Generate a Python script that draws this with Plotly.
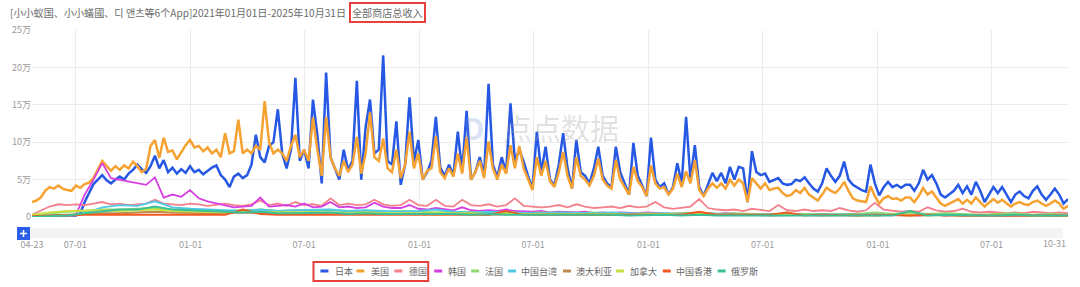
import pandas as pd
import plotly.graph_objects as go

# ---------------- data (values in 万) ----------------
weeks = pd.date_range("2021-04-23", "2025-10-31", freq="7D")      # weekly samples
biweeks = weeks[::2]
fourweeks = weeks[::4]

series_names = ["日本", "美国", "德国", "韩国", "法国", "中国台湾", "澳大利亚", "加拿大", "中国香港", "俄罗斯"]

japan = [
    0.1, 0.1, 0.1, 0.1, 0.1, 0.1, 0.1, 0.1, 0.1, 0.1, 0.2,
    0.5, 2.0, 3.2, 4.4, 5.0, 5.6, 4.9, 4.5, 5.0, 5.4, 5.0, 5.8, 6.3, 7.0, 6.4, 5.9, 6.8, 8.2, 6.5, 7.6, 6.0, 6.6, 5.8, 6.4, 5.9, 6.8,
    6.0, 6.3, 5.7, 6.2, 6.6, 6.9, 5.6, 5.0, 4.0, 5.4, 5.8, 5.2, 5.6, 7.0, 11.0, 8.0, 7.3, 9.5, 10.0, 14.4, 8.5, 6.5, 9.0, 18.6, 7.5, 9.0,
    6.5, 15.7, 11.0, 4.5, 19.3, 8.0, 6.6, 5.0, 9.0, 6.3, 7.5, 18.2, 5.0, 12.0, 15.7, 8.5, 9.0, 21.6, 7.5, 7.0, 12.8, 4.3, 7.0, 16.0, 7.4, 10.3,
    5.0, 6.0, 7.5, 13.4, 6.6, 5.5, 7.0, 5.6, 11.4, 6.1, 14.2, 5.0, 6.0, 8.0, 5.6, 17.8, 7.0, 5.3, 8.0, 6.0, 15.2, 7.5, 9.0, 7.4, 5.5, 3.8,
    11.4, 6.0, 9.4, 5.0, 4.2, 7.0, 11.2, 6.5, 3.8, 10.3, 6.0, 5.5, 4.5, 6.5, 9.4, 5.5, 4.5, 4.0, 9.4, 6.0, 4.5, 3.0, 9.9, 5.5, 4.2, 2.8,
    10.6, 5.0, 4.0, 4.5, 3.0, 4.0, 7.2, 4.5, 13.4, 5.0, 9.6, 4.0, 2.8, 4.5, 5.9,
    4.8, 5.9, 4.5, 6.7, 5.0, 6.7, 6.5, 2.0, 8.8, 6.0, 5.6, 5.8, 4.7, 5.0, 5.2, 4.5, 4.3, 4.4, 5.0, 4.8, 5.3, 4.5, 3.8, 3.4, 4.5, 6.5,
    5.5, 4.7, 5.5, 7.4, 5.0, 4.3, 3.9, 3.6, 3.4, 7.0, 4.5, 2.9, 4.0, 4.7, 4.0, 4.3, 3.9, 4.3, 4.3, 3.5, 4.5, 6.3, 5.0, 5.6, 4.5, 3.0,
    2.6, 3.0, 3.5, 4.3, 3.2, 4.1, 3.0, 4.7, 3.5, 2.0, 3.0, 4.0, 3.2, 4.0, 3.0, 2.0, 3.0, 3.4, 2.8, 2.5, 3.5, 4.1, 3.0, 2.3, 3.0, 3.8,
    3.0, 1.8, 2.4,
]

usa = [
    2.0, 2.2, 2.6, 3.5, 4.0, 3.8, 4.2, 3.8, 3.6, 3.5, 4.2,
    3.9, 4.4, 4.6, 5.2, 6.3, 7.5, 6.8, 6.2, 6.8, 6.3, 6.9, 6.5, 7.4, 6.8, 6.0, 6.4, 9.5, 10.3, 7.9, 10.6, 8.7, 8.9, 7.7, 8.6, 9.6, 10.3,
    9.3, 9.5, 8.8, 9.3, 8.5, 9.0, 8.0, 11.2, 8.5, 8.8, 13.0, 8.5, 9.0, 8.5, 9.5, 9.0, 15.5, 10.0, 8.5, 9.0, 8.5, 7.5, 9.5, 11.0, 8.0, 9.0,
    7.5, 13.3, 9.0, 5.5, 13.4, 8.0, 6.5, 5.5, 7.5, 6.0, 7.0, 10.7, 5.8, 8.5, 14.0, 8.0, 7.5, 10.5, 6.5, 6.0, 9.0, 5.2, 7.0, 11.4, 6.5, 8.5,
    5.0, 6.2, 6.5, 10.8, 6.0, 5.2, 6.5, 5.4, 8.5, 5.8, 10.7, 5.0, 6.0, 7.5, 5.2, 10.1, 6.5, 5.0, 7.0, 5.8, 9.6, 6.5, 9.5, 6.5, 5.0, 3.6,
    8.0, 5.5, 7.5, 4.8, 4.0, 6.0, 8.7, 5.5, 3.8, 8.0, 5.5, 5.0, 4.2, 5.5, 7.8, 5.0, 4.2, 3.8, 7.6, 5.0, 4.0, 3.0, 6.7, 4.8, 4.0, 2.8,
    6.9, 4.5, 3.8, 4.0, 3.0, 3.8, 5.8, 4.0, 6.1, 4.5, 7.6, 3.6, 2.8, 3.8, 4.5,
    3.9, 4.5, 3.8, 5.0, 4.2, 5.0, 4.5, 2.0, 5.2, 4.5, 3.8, 4.5, 3.6, 3.8, 3.9, 3.2, 2.8, 3.0, 3.6, 3.2, 3.9, 3.0, 2.6, 2.2, 3.0, 3.9,
    3.5, 3.2, 3.8, 4.7, 3.5, 2.5, 2.2, 2.1, 2.0, 4.1, 2.8, 1.8, 2.5, 2.8, 2.4, 2.5, 2.2, 2.6, 2.6, 2.0, 2.8, 3.9, 3.0, 3.4, 2.6, 1.8,
    1.5, 1.8, 2.0, 2.4, 1.8, 2.3, 1.8, 2.6, 2.0, 1.4, 1.9, 2.4, 1.9, 2.3, 1.8, 1.4, 1.8, 2.0, 1.7, 1.6, 2.0, 2.2, 1.8, 1.5, 1.8, 2.2,
    1.8, 1.1, 1.5,
]

germany = [
    0.3, 0.8, 1.4, 1.7, 1.6, 1.7, 1.6, 1.8, 2.0, 1.7,
    1.8, 1.6, 1.7, 1.8, 2.3, 1.8, 1.7, 1.6, 1.8, 1.7,
    1.5, 1.6, 1.8, 1.6, 1.5, 1.7, 2.2, 1.6, 1.8, 1.5,
    2.0, 1.6, 1.7, 1.5, 2.5, 1.6, 1.8, 1.6, 1.7, 2.3,
    1.7, 1.5, 1.6, 2.3, 1.6, 1.5, 2.3, 1.5, 1.4, 2.3,
    1.6, 1.5, 1.7, 1.4, 1.6, 2.5, 1.5, 1.4, 1.3, 1.4,
    1.6, 1.3, 1.7, 1.4, 1.2, 1.3, 1.4, 1.2, 1.5, 1.3,
    1.4, 2.0, 1.3, 1.1, 1.2, 1.4, 2.4, 1.2, 1.0, 0.9,
    1.0, 0.8, 1.1, 0.9, 0.8, 1.6, 0.9, 0.8, 1.0, 0.8,
    0.9, 0.8, 1.2, 0.9, 0.7, 0.9, 1.9, 1.0, 0.8, 0.7,
    0.8, 0.7, 1.3, 0.9, 0.7, 0.8, 1.1, 0.7, 0.6, 0.7,
    0.6, 0.5, 0.6, 0.5, 0.7, 0.6, 0.5, 0.6, 0.5,
]

korea = [
    0.1, 0.1, 0.1, 0.1, 0.1, 0.3, 3.0, 5.0, 7.2, 5.2,
    5.0, 4.8, 4.6, 4.3, 5.3, 2.6, 3.0, 2.7, 3.6, 2.5,
    2.1, 1.8, 1.5, 1.3, 1.4, 1.5, 2.6, 1.4, 1.5, 1.6,
    1.4, 1.8, 1.3, 1.4, 2.0, 1.3, 1.4, 1.2, 1.3, 1.9,
    1.4, 1.2, 1.2, 1.6, 1.1, 1.0, 1.2, 1.0, 0.9, 1.3,
    0.9, 0.8, 0.9, 0.8, 1.0, 0.8, 0.7, 0.7, 0.8, 0.6,
    0.7, 0.6, 0.6, 0.7, 0.5, 0.6, 0.5, 0.6, 0.5, 0.5,
    0.6, 0.5, 0.5, 0.4, 0.5, 0.4, 0.5, 0.4, 0.4, 0.5,
    0.4, 0.4, 0.3, 0.4, 0.3, 0.4, 0.3, 0.3, 0.4, 0.3,
    0.3, 0.3, 0.4, 0.3, 0.3, 0.3, 0.4, 0.3, 0.3, 0.3,
    0.3, 0.2, 0.3, 0.3, 0.2, 0.3, 0.2, 0.2, 0.3, 0.2,
    0.2, 0.2, 0.3, 0.2, 0.2, 0.2, 0.3, 0.2, 0.2,
]

france = [
    0.2, 0.5, 0.7, 0.8, 1.0, 1.0, 1.1, 1.2, 1.0, 0.9,
    0.9, 0.8, 0.9, 1.0, 0.8, 0.9, 0.8, 0.9, 0.7, 0.8,
    0.7, 0.8, 0.7, 0.6, 0.7, 0.6, 0.6, 0.7, 0.5, 0.6,
    0.5, 0.5, 0.6, 0.5, 0.4, 0.5, 0.4, 0.5, 0.6, 0.4,
    0.5, 0.4, 0.4, 0.5, 0.4, 0.4, 0.5, 0.4, 0.6, 0.4,
    0.6, 0.4, 0.5, 0.4, 0.3, 0.4, 0.5, 0.3, 0.4, 0.3,
]

taiwan = [
    0.0, 0.1, 0.1, 0.5, 1.3, 1.6, 1.5, 2.1, 1.3, 1.1,
    1.0, 0.9, 0.8, 1.0, 0.8, 0.9, 0.9, 1.0, 0.8, 0.9,
    0.8, 0.7, 0.8, 1.0, 0.7, 0.6, 0.7, 0.6, 0.6, 0.5,
    0.6, 0.5, 0.5, 0.6, 0.5, 0.4, 0.5, 0.4, 0.5, 0.4,
    0.4, 0.3, 0.4, 0.3, 0.3, 0.4, 0.3, 0.3, 0.3, 0.3,
    0.3, 0.3, 0.2, 0.3, 0.2, 0.3, 0.2, 0.2, 0.3, 0.2,
]

australia = [
    0.1, 0.2, 0.3, 0.4, 0.5, 0.5, 0.6, 0.7, 0.6, 0.5,
    0.5, 0.5, 0.6, 0.5, 0.5, 0.4, 0.5, 0.5, 0.4, 0.5,
    0.4, 0.4, 0.5, 0.4, 0.4, 0.4, 0.3, 0.4, 0.4, 0.3,
    0.4, 0.3, 0.3, 0.4, 0.3, 0.3, 0.3, 0.4, 0.3, 0.3,
    0.3, 0.3, 0.2, 0.3, 0.3, 0.2, 0.3, 0.3, 0.2, 0.3,
    0.2, 0.3, 0.2, 0.2, 0.3, 0.2, 0.2, 0.2, 0.3, 0.2,
]

canada = [
    0.3, 0.6, 0.8, 0.9, 0.9, 0.8, 0.9, 1.0, 0.8, 0.7,
    0.7, 0.6, 0.7, 0.7, 0.6, 0.6, 0.7, 0.6, 0.5, 0.6,
    0.5, 0.5, 0.6, 0.5, 0.5, 0.5, 0.4, 0.5, 0.4, 0.4,
    0.5, 0.4, 0.4, 0.4, 0.3, 0.4, 0.4, 0.3, 0.4, 0.3,
    0.3, 0.3, 0.4, 0.3, 0.3, 0.3, 0.3, 0.2, 0.3, 0.3,
    0.3, 0.2, 0.3, 0.2, 0.2, 0.3, 0.2, 0.2, 0.2, 0.2,
]

hongkong = [
    0.1, 0.2, 0.2, 0.3, 0.3, 0.3, 0.4, 0.3, 0.3, 0.3,
    0.3, 0.3, 1.0, 0.4, 0.3, 0.3, 0.4, 0.3, 0.3, 0.3,
    0.4, 0.3, 0.3, 0.3, 0.3, 0.3, 0.3, 0.8, 0.3, 0.3,
    0.3, 0.3, 0.3, 0.3, 0.3, 0.3, 0.3, 0.3, 0.7, 0.3,
    0.3, 0.3, 0.3, 0.6, 0.2, 0.3, 0.2, 0.2, 0.3, 0.2,
    0.2, 0.3, 0.2, 0.2, 0.2, 0.2, 0.3, 0.2, 0.2, 0.2,
]

russia = [
    0.0, 0.1, 0.2, 0.5, 0.8, 1.0, 1.0, 1.4, 1.0, 0.9,
    0.8, 0.7, 0.6, 0.7, 0.5, 0.5, 0.5, 0.6, 0.4, 0.5,
    0.4, 0.4, 0.5, 0.4, 0.4, 0.3, 0.4, 0.3, 0.3, 0.4,
    0.3, 0.3, 0.3, 0.3, 0.2, 0.3, 0.3, 0.2, 0.3, 0.2,
    0.2, 0.3, 0.2, 0.2, 0.2, 0.2, 0.3, 0.2, 0.2, 0.2,
    0.8, 0.2, 0.3, 0.2, 0.2, 0.2, 0.3, 0.2, 0.2, 0.2,
]

x_tick_dates = ["2021-04-23", "2021-07-01", "2022-01-01", "2022-07-01", "2023-01-01",
                "2023-07-01", "2024-01-01", "2024-07-01", "2025-01-01", "2025-07-01"]
x_tick_text = ["04-23", "07-01", "01-01", "07-01", "01-01", "07-01", "01-01", "07-01", "01-01", "07-01"]
end_date, end_label = "2025-10-31", "10-31"
y_tick_vals = [0, 5, 10, 15, 20, 25]
y_tick_text = ["0", "5万", "10万", "15万", "20万", "25万"]

title_main = "[小小蚁国、小小蟻國、디 앤츠等6个App]2021年01月01日-2025年10月31日"
title_boxed = "全部商店总收入"

# ---------------- styling ----------------
colors = ["#2658e4", "#f5a232", "#f3808c", "#d73ee2", "#8fd870",
          "#4fc8e6", "#c0894c", "#c8df42", "#f2581f", "#3cbf97"]
FONT = "Noto Sans CJK SC, Noto Sans, sans-serif"
W, H = 1080, 287
ML, MR, MT, MB = 30, 12, 30, 70
PW, PH = W - ML - MR, H - MT - MB


def px(x):
    return (x - ML) / PW


def py(y):
    return (H - MB - y) / PH


def xs(vals, base):
    return list(base[:len(vals)])


data_sets = [
    (japan, weeks, 2.5), (usa, weeks, 2.5), (germany, biweeks, 1.8), (korea, biweeks, 1.8),
    (france, fourweeks, 1.8), (taiwan, fourweeks, 1.8), (australia, fourweeks, 1.8),
    (canada, fourweeks, 1.8), (hongkong, fourweeks, 1.8), (russia, fourweeks, 1.8),
]

fig = go.Figure()
for name, (vals, base, lw), col in zip(series_names, data_sets, colors):
    fig.add_trace(go.Scatter(x=xs(vals, base), y=vals, mode="lines", name=name,
                             line=dict(color=col, width=lw), showlegend=False))

shapes = []
annotations = []

# data-zoom band and "+" button (drawn as shapes)
shapes.append(dict(type="rect", xref="paper", yref="paper", x0=px(28), x1=px(1063), y0=py(238), y1=py(228),
                   fillcolor="#f2f3f5", line=dict(width=0), layer="below"))
shapes.append(dict(type="rect", xref="paper", yref="paper", x0=px(15), x1=px(28), y0=py(240), y1=py(227),
                   fillcolor="#2a5ee8", line=dict(width=0)))
shapes.append(dict(type="line", xref="paper", yref="paper", x0=px(18), x1=px(25), y0=py(233.5), y1=py(233.5),
                   line=dict(color="white", width=1.5)))
shapes.append(dict(type="line", xref="paper", yref="paper", x0=px(21.5), x1=px(21.5), y0=py(230), y1=py(237),
                   line=dict(color="white", width=1.5)))

# title
annotations.append(dict(text=title_main, xref="paper", yref="paper", x=px(347), y=py(12), showarrow=False,
                        xanchor="right", yanchor="middle", font=dict(size=10.1, color="#6b6b6b", family=FONT)))
annotations.append(dict(text=title_boxed, xref="paper", yref="paper", x=px(348), y=py(12), showarrow=False,
                        xanchor="left", yanchor="middle", font=dict(size=10.1, color="#6b6b6b", family=FONT),
                        bordercolor="#e5403b", borderwidth=2, borderpad=1))

# end tick label
annotations.append(dict(text=end_label, xref="x", yref="paper", x=end_date, y=py(244), showarrow=False,
                        xanchor="right", yanchor="middle", font=dict(size=9, color="#9a9a9a", family=FONT)))

# watermark
annotations.append(dict(text="点点数据", xref="paper", yref="paper", x=px(560), y=py(127), showarrow=False,
                        xanchor="center", yanchor="middle",
                        font=dict(size=29, color="rgba(160,160,160,0.33)", family=FONT)))
annotations.append(dict(text="<b>D</b>", xref="paper", yref="paper", x=px(472), y=py(127), showarrow=False,
                        xanchor="center", yanchor="middle",
                        font=dict(size=30, color="rgba(110,140,220,0.25)", family=FONT)))

# custom legend
legend_pos = [(319, 332), (355, 368), (393, 406), (433, 445), (470, 482),
              (507, 518), (562, 573), (615, 627), (662, 673), (717, 728)]
LEG_Y = 271
for name, col, (lx, tx) in zip(series_names, colors, legend_pos):
    shapes.append(dict(type="line", xref="paper", yref="paper", x0=px(lx), x1=px(lx + 8),
                       y0=py(LEG_Y), y1=py(LEG_Y), line=dict(color=col, width=3)))
    annotations.append(dict(text=name, xref="paper", yref="paper", x=px(tx), y=py(LEG_Y), showarrow=False,
                            xanchor="left", yanchor="middle", font=dict(size=9, color="#666", family=FONT)))
shapes.append(dict(type="rect", xref="paper", yref="paper", x0=px(312), x1=px(427), y0=py(281), y1=py(262),
                   line=dict(color="#e5403b", width=2), fillcolor="rgba(0,0,0,0)"))

fig.update_layout(
    width=W, height=H,
    margin=dict(l=ML, r=MR, t=MT, b=MB),
    paper_bgcolor="white", plot_bgcolor="white",
    font=dict(family=FONT, size=9, color="#999"),
    showlegend=False,
    shapes=shapes, annotations=annotations,
    xaxis=dict(type="date", range=[weeks[0], end_date], tickvals=x_tick_dates, ticktext=x_tick_text,
               showgrid=True, gridcolor="#ececec", gridwidth=1, zeroline=False, showline=False,
               ticks="", tickfont=dict(size=9, color="#9a9a9a"), ticklabelstandoff=21, fixedrange=True),
    yaxis=dict(range=[0, 25], tickvals=y_tick_vals, ticktext=y_tick_text,
               showgrid=True, gridcolor="#ececec", gridwidth=1, zeroline=False, showline=False,
               ticks="", tickfont=dict(size=9, color="#9a9a9a"), fixedrange=True),
)

fig.write_html("out.html")
